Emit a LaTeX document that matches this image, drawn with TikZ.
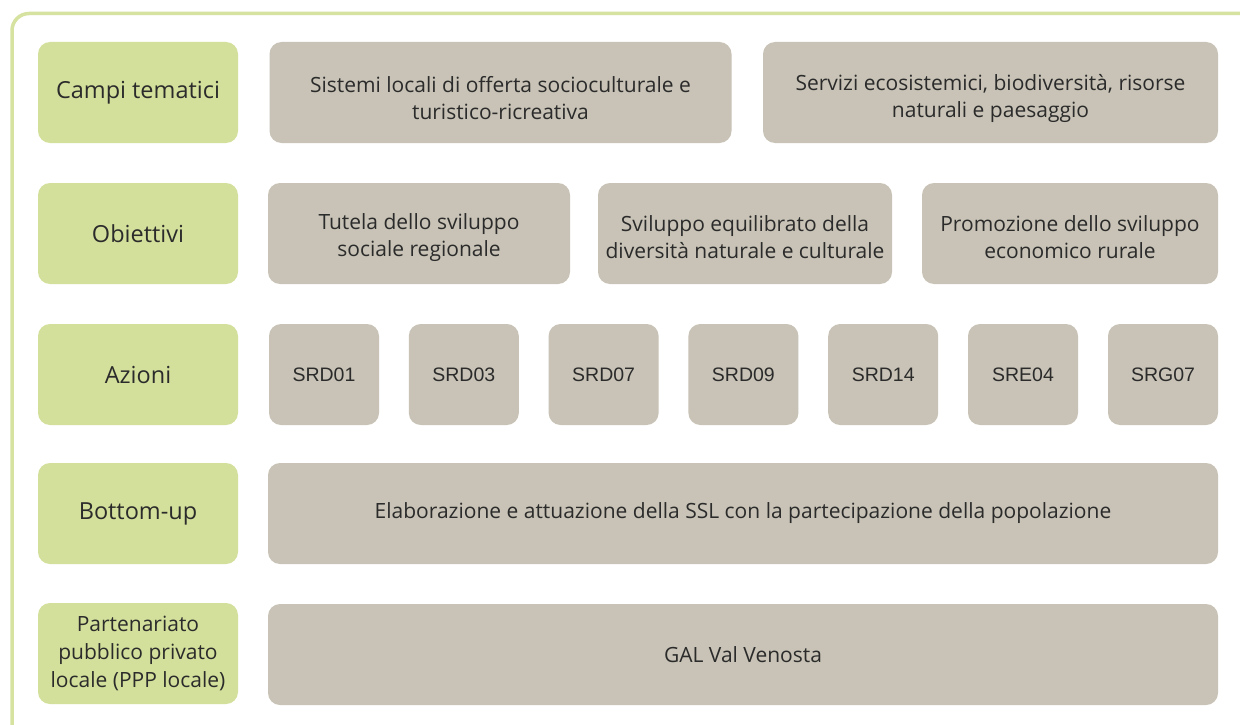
\documentclass[tikz,border=0pt]{standalone}
\usepackage{fontspec}
\setmainfont{Open Sans}
\newfontfamily\codefont{Liberation Sans}
\usepackage{xcolor}
\definecolor{leafgreen}{HTML}{D3E09B}
\definecolor{framegreen}{HTML}{D6E2A0}
\definecolor{stonegrey}{HTML}{C8C3B6}
\definecolor{inkgrey}{HTML}{2B2B2B}
\usepackage{tikz}

\begin{document}
\begin{tikzpicture}[x=1pt, y=-1pt,
    every node/.style={inner sep=0pt, align=center, text=inkgrey, font=\fontsize{21}{27}\selectfont},
    lbl/.style={fill=leafgreen, rounded corners=12pt, minimum width=200pt, minimum height=101pt, font=\fontsize{23.5}{28}\selectfont},
    cell/.style={fill=stonegrey, rounded corners=12pt, minimum height=101pt},
    code/.style={cell, minimum width=110pt, font=\codefont\fontsize{19.5}{24}\selectfont}]
            \useasboundingbox (0, 0) rectangle (1240, 725);
            \clip (0, 0) rectangle (1240, 725);
            \fill[white] (0, 0) rectangle (1240, 725);
            \draw[framegreen, line width=3.5pt, rounded corners=17pt] (12, 13.5) rectangle (1300, 800);

            % left column
            \node[lbl] at (138, 92.5)   (campi) {Campi tematici};
            \node[lbl] at (138, 233.5)  (obiet) {Obiettivi};
            \node[lbl] at (138, 374.5)  (azioni) {Azioni};
            \node[lbl] at (138, 513.5)  (bottom) {Bottom-up};
            \node[lbl, font=\fontsize{21}{28}\selectfont] at (138, 653.5)  (ppp) {Partenariato\\pubblico privato\\locale (PPP locale)};

            % campi tematici (two-line text sits a little low in its box)
            \node[cell, minimum width=462pt] at (500.5, 92.5) (sistemi) {};
            \node[cell, minimum width=455pt] at (990.5, 92.5) (servizi) {};
            \node at (500.5, 98) (sistemi-txt) {Sistemi locali di offerta socioculturale e\\turistico-ricreativa};
            \node at (990.5, 98) (servizi-txt) {Servizi ecosistemici, biodiversità, risorse\\naturali e paesaggio};

            % obiettivi
            \node[cell, minimum width=302pt] at (419, 233.5) (tutela) {};
            \node[cell, minimum width=294pt] at (745, 233.5) (equil) {};
            \node[cell, minimum width=296pt] at (1070, 233.5) (promo) {};
            \node at (419, 237.5) (tutela-txt) {Tutela dello sviluppo\\sociale regionale};
            \node at (745, 237.5) (equil-txt) {Sviluppo equilibrato della\\diversità naturale e culturale};
            \node at (1070, 237.5) (promo-txt) {Promozione dello sviluppo\\economico rurale};

            % azioni
            \node[code] at (324, 374.5)   (srd01) {SRD01};
            \node[code] at (463.8, 374.5) (srd03) {SRD03};
            \node[code] at (603.6, 374.5) (srd07) {SRD07};
            \node[code] at (743.4, 374.5) (srd09) {SRD09};
            \node[code] at (883.2, 374.5) (srd14) {SRD14};
            \node[code] at (1023, 374.5)  (sre04) {SRE04};
            \node[code] at (1163, 374.5)  (srg07) {SRG07};

            % bottom-up and partenariato
            \node[cell, minimum width=950pt] at (743, 513.5) (ssl) {Elaborazione e attuazione della SSL con la partecipazione della popolazione};
            \node[cell, minimum width=950pt] at (743, 654.5) (gal) {GAL Val Venosta};
        \end{tikzpicture}
\end{document}
